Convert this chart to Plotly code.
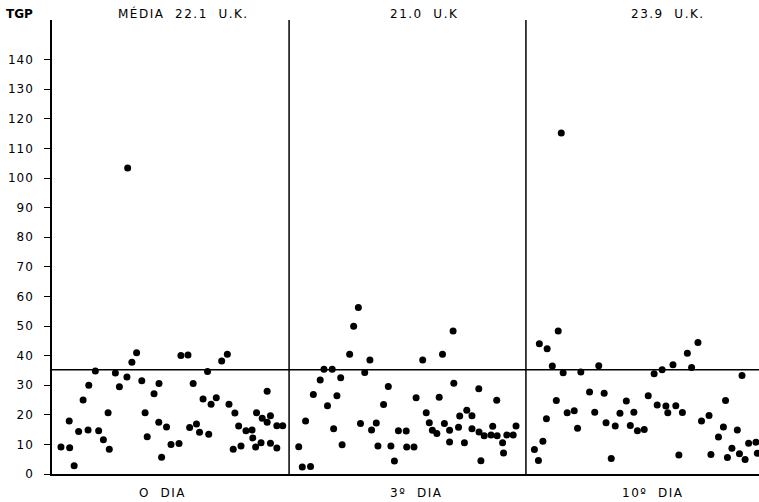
import plotly.graph_objects as go

# ---- data (position within panel 0-100, TGP value) ----
day0_x = [3.8, 7.3, 7.5, 9.4, 11.3, 13.2, 15.3, 15.6, 18.4, 19.8, 21.8, 23.8, 24.3, 26.9, 28.6,
          31.8, 33.9, 35.9, 38.1, 39.5, 40.4, 43.3, 45.4, 45.3, 46.5, 48.6, 50.5, 53.9, 54.7, 57.7,
          58.4, 59.9, 61.3, 62.6, 64.1, 66.0, 66.5, 67.5, 69.7, 72.0, 74.4, 75.1, 76.9, 77.6, 79.2,
          80.2, 82.3, 84.9, 85.2, 86.4, 86.8, 89.2, 88.7, 91.3, 91.3, 92.7, 92.7, 95.4, 95.4, 97.9,
          32.1]
day0_y = [9.1, 17.9, 8.9, 2.8, 14.4, 25.0, 14.9, 30.0, 34.8, 14.6, 11.6, 20.7, 8.4, 34.1, 29.5,
          32.8, 37.8, 41.0, 31.5, 20.7, 12.6, 27.1, 30.6, 17.5, 5.7, 15.9, 10.0, 10.3, 40.0, 40.2,
          15.7, 30.6, 16.9, 14.1, 25.3, 34.6, 13.4, 23.6, 25.8, 38.2, 40.5, 23.6, 8.4, 20.6, 16.2,
          9.5, 14.6, 14.9, 12.2, 9.1, 20.7, 18.8, 10.6, 28.0, 17.5, 19.7, 10.4, 8.8, 16.3, 16.3,
          103.4]

day3_x = [4.1, 5.6, 9.1, 7.0, 10.3, 13.2, 14.8, 16.3, 18.3, 18.9, 20.3, 21.9, 22.5, 25.7, 27.4,
          29.4, 30.3, 32.1, 34.3, 35.0, 37.0, 37.7, 40.1, 42.1, 43.2, 44.7, 46.4, 49.7, 49.9, 53.0,
          53.9, 56.7, 58.2, 59.5, 60.8, 62.7, 63.7, 65.1, 65.9, 68.1, 68.1, 69.6, 69.9, 71.9, 72.4,
          74.4, 75.4, 77.6, 77.6, 80.5, 80.6, 81.4, 82.8, 85.7, 86.4, 88.1, 88.3, 90.6, 91.0, 92.4,
          95.1, 96.3]
day3_y = [9.2, 2.4, 2.5, 17.9, 26.9, 31.8, 35.4, 23.1, 35.4, 15.3, 26.4, 32.5, 9.9, 40.5, 49.9,
          56.3, 17.1, 34.3, 38.5, 14.9, 17.2, 9.5, 23.5, 29.6, 9.5, 4.4, 14.6, 14.5, 9.1, 9.1,
          25.8, 38.5, 20.7, 17.3, 14.8, 13.7, 25.9, 40.5, 17.1, 14.8, 10.8, 48.3, 30.7, 15.8, 19.6,
          10.6, 21.5, 19.7, 15.3, 28.8, 14.2, 4.5, 12.9, 13.2, 16.1, 24.9, 12.9, 10.6, 7.1, 13.2,
          13.2, 16.2]

day10_x = [3.6, 5.3, 5.7, 7.2, 8.7, 9.0, 11.2, 12.9, 13.7, 15.8, 17.5, 20.5, 21.9, 23.3, 27.0,
           29.2, 30.9, 33.2, 34.0, 36.2, 37.9, 39.9, 42.6, 44.3, 45.8, 47.3, 50.2, 51.9, 54.4, 55.7,
           57.8, 59.4, 60.2, 62.4, 63.6, 64.9, 66.4, 68.5, 70.3, 73.0, 74.5, 77.7, 78.5, 81.7, 83.8,
           84.7, 85.5, 87.4, 89.7, 90.6, 91.7, 93.0, 94.5, 97.6, 98.2, 15.0]
day10_y = [8.3, 4.6, 44.0, 11.1, 18.7, 42.3, 36.5, 24.8, 48.3, 34.2, 20.7, 21.4, 15.5, 34.5, 27.7,
           20.9, 36.6, 27.3, 17.3, 5.2, 16.2, 20.5, 24.7, 16.4, 20.9, 14.6, 15.0, 26.4, 33.9, 23.3,
           35.2, 23.0, 20.7, 36.9, 23.1, 6.4, 20.8, 40.8, 36.0, 44.4, 17.9, 19.8, 6.6, 12.5, 15.9,
           24.8, 5.6, 8.7, 14.9, 6.8, 33.3, 4.9, 10.4, 10.7, 7.0, 115.2]

panel_offsets = [0, 100.6, 201.1]
panel_ends = [100.6, 201.1, 300]
panel_means = ["MÉDIA  22.1  U.K.", "21.0  U.K", "23.9  U.K."]
panel_labels = ["O  DIA", "3º  DIA", "10º  DIA"]
reference_level = 35.2
y_ticks = list(range(0, 150, 10))
y_tick_labels = [str(v) for v in y_ticks]

FONT = "DejaVu Sans"
header_shift = [5.5, 7, 11]
footer_shift = [-3.5, 3.5, 4.5]


def spaced(t, ls):
    return f'<span style="letter-spacing:{ls}px">{t}</span>'


fig = go.Figure()
series = [(day0_x, day0_y), (day3_x, day3_y), (day10_x, day10_y)]
for off, (xs, ys) in zip(panel_offsets, series):
    fig.add_trace(go.Scatter(
        x=[off + v for v in xs], y=ys, mode="markers",
        marker=dict(color="black", size=7, line=dict(width=0)),
        showlegend=False, hoverinfo="skip"))

fig.add_shape(type="line", xref="x", yref="y", x0=0, x1=300,
              y0=reference_level, y1=reference_level,
              line=dict(color="black", width=1.5))
for d in panel_ends[:2]:
    fig.add_shape(type="line", xref="x", yref="paper", x0=d, x1=d, y0=0, y1=1,
                  line=dict(color="black", width=1.5))

for i, (off, end, mean, lab) in enumerate(zip(panel_offsets, panel_ends, panel_means, panel_labels)):
    c = (off + end) / 2
    fig.add_annotation(x=c + header_shift[i], xref="x", y=1, yref="paper",
                       yshift=-3, yanchor="bottom", text=spaced(mean, 1.5), showarrow=False,
                       font=dict(family=FONT, size=12, color="black"))
    fig.add_annotation(x=c + footer_shift[i], xref="x", y=0, yref="paper", yshift=-10,
                       yanchor="top", text=spaced(lab, 1.5), showarrow=False,
                       font=dict(family=FONT, size=12, color="black"))

fig.add_annotation(x=0, xref="paper", xshift=-48, xanchor="left", y=1, yref="paper",
                   yshift=-3, yanchor="bottom", text="<b>TGP</b>", showarrow=False,
                   font=dict(family=FONT, size=12, color="black"))

fig.update_layout(
    width=759, height=502,
    margin=dict(l=52, r=0, t=20, b=28),
    paper_bgcolor="white", plot_bgcolor="white",
    font=dict(family=FONT, size=12, color="black"),
    xaxis=dict(range=[0, 300], showgrid=False, zeroline=False, showticklabels=False,
               ticks="", showline=True, linecolor="black", linewidth=1.5, fixedrange=True),
    yaxis=dict(range=[0, 153.4], showgrid=False, zeroline=False, tickvals=y_ticks,
               ticktext=[spaced(t, 1) for t in y_tick_labels],
               ticks="outside", ticklen=6, tickcolor="black", tickwidth=1.2,
               ticklabelstandoff=8,
               showline=True, linecolor="black", linewidth=1.5,
               tickfont=dict(family=FONT, size=12, color="black"), fixedrange=True),
)
fig.write_html("out.html")
